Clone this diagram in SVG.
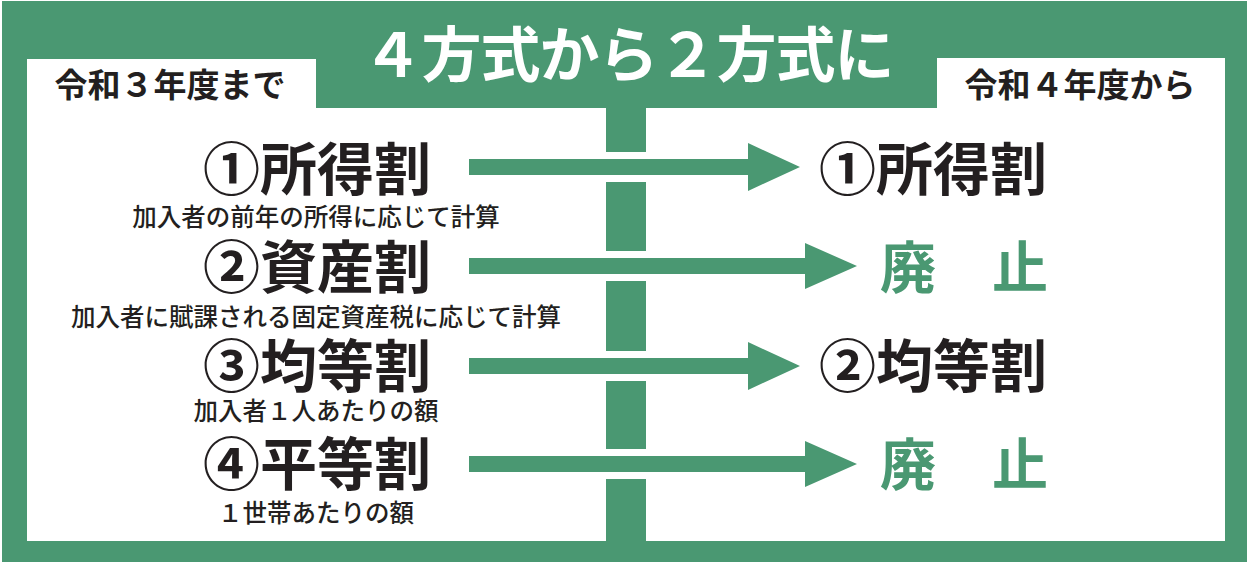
<svg xmlns="http://www.w3.org/2000/svg" width="1247" height="562" viewBox="0 0 1247 562">
<defs>
<style>
.jp{font-family:"Noto Sans CJK JP","Noto Sans",sans-serif;}
.title{font-size:57px;font-weight:700;fill:#231f20;text-anchor:middle;}
.sub{font-size:24.5px;font-weight:500;fill:#231f20;text-anchor:middle;}
.tab{font-size:33px;font-weight:700;fill:#231f20;text-anchor:middle;}
.abol{font-size:56px;font-weight:700;fill:#4a9872;}
.arrow{fill:#4a9872;stroke:#ffffff;stroke-width:14;paint-order:stroke;stroke-linejoin:miter;}
</style>
</defs>
<rect x="0" y="0" width="1247" height="562" fill="#ffffff"/>
<rect x="2" y="1" width="1245" height="561" fill="#4a9872"/>
<g id="header">
<text class="jp" x="628" y="77" font-size="60" font-weight="700" letter-spacing="-1" fill="#ffffff" text-anchor="middle">４方式から２方式に</text>
</g>
<g id="left-panel">
<path d="M27,59 H316 V108 H606 V541 H27 Z" fill="#ffffff"/>
<text class="jp tab" x="170" y="97">令和３年度まで</text>
</g>
<g id="right-panel">
<path d="M937,58 H1225 V541 H646 V108 H937 Z" fill="#ffffff"/>
<text class="jp tab" x="1080" y="97">令和４年度から</text>
</g>
<g id="connectors">
<path class="arrow" d="M469,159 H748 V143 L800,167 L748,191 V175 H469 Z"/>
<path class="arrow" d="M469,258 H805 V243 L857,266 L805,289 V274 H469 Z"/>
<path class="arrow" d="M469,358 H748 V342 L800,366 L748,390 V374 H469 Z"/>
<path class="arrow" d="M469,456 H805 V441 L857,464 L805,487 V472 H469 Z"/>
</g>
<g id="node-shotoku">
<text class="jp title" x="317" y="190">①所得割</text>
<text class="jp sub" x="316" y="226">加入者の前年の所得に応じて計算</text>
</g>
<g id="node-shisan">
<text class="jp title" x="317" y="288">②資産割</text>
<text class="jp sub" x="316" y="326">加入者に賦課される固定資産税に応じて計算</text>
</g>
<g id="node-kintou">
<text class="jp title" x="317" y="387">③均等割</text>
<text class="jp sub" x="316" y="420">加入者１人あたりの額</text>
</g>
<g id="node-byoudou">
<text class="jp title" x="317" y="485">④平等割</text>
<text class="jp sub" x="316" y="522">１世帯あたりの額</text>
</g>
<g id="node-new-shotoku">
<text class="jp title" x="933" y="190">①所得割</text>
</g>
<g id="node-abolish-1">
<text class="jp abol" x="880" y="288">廃　止</text>
</g>
<g id="node-new-kintou">
<text class="jp title" x="933" y="387">②均等割</text>
</g>
<g id="node-abolish-2">
<text class="jp abol" x="880" y="485">廃　止</text>
</g>
</svg>
